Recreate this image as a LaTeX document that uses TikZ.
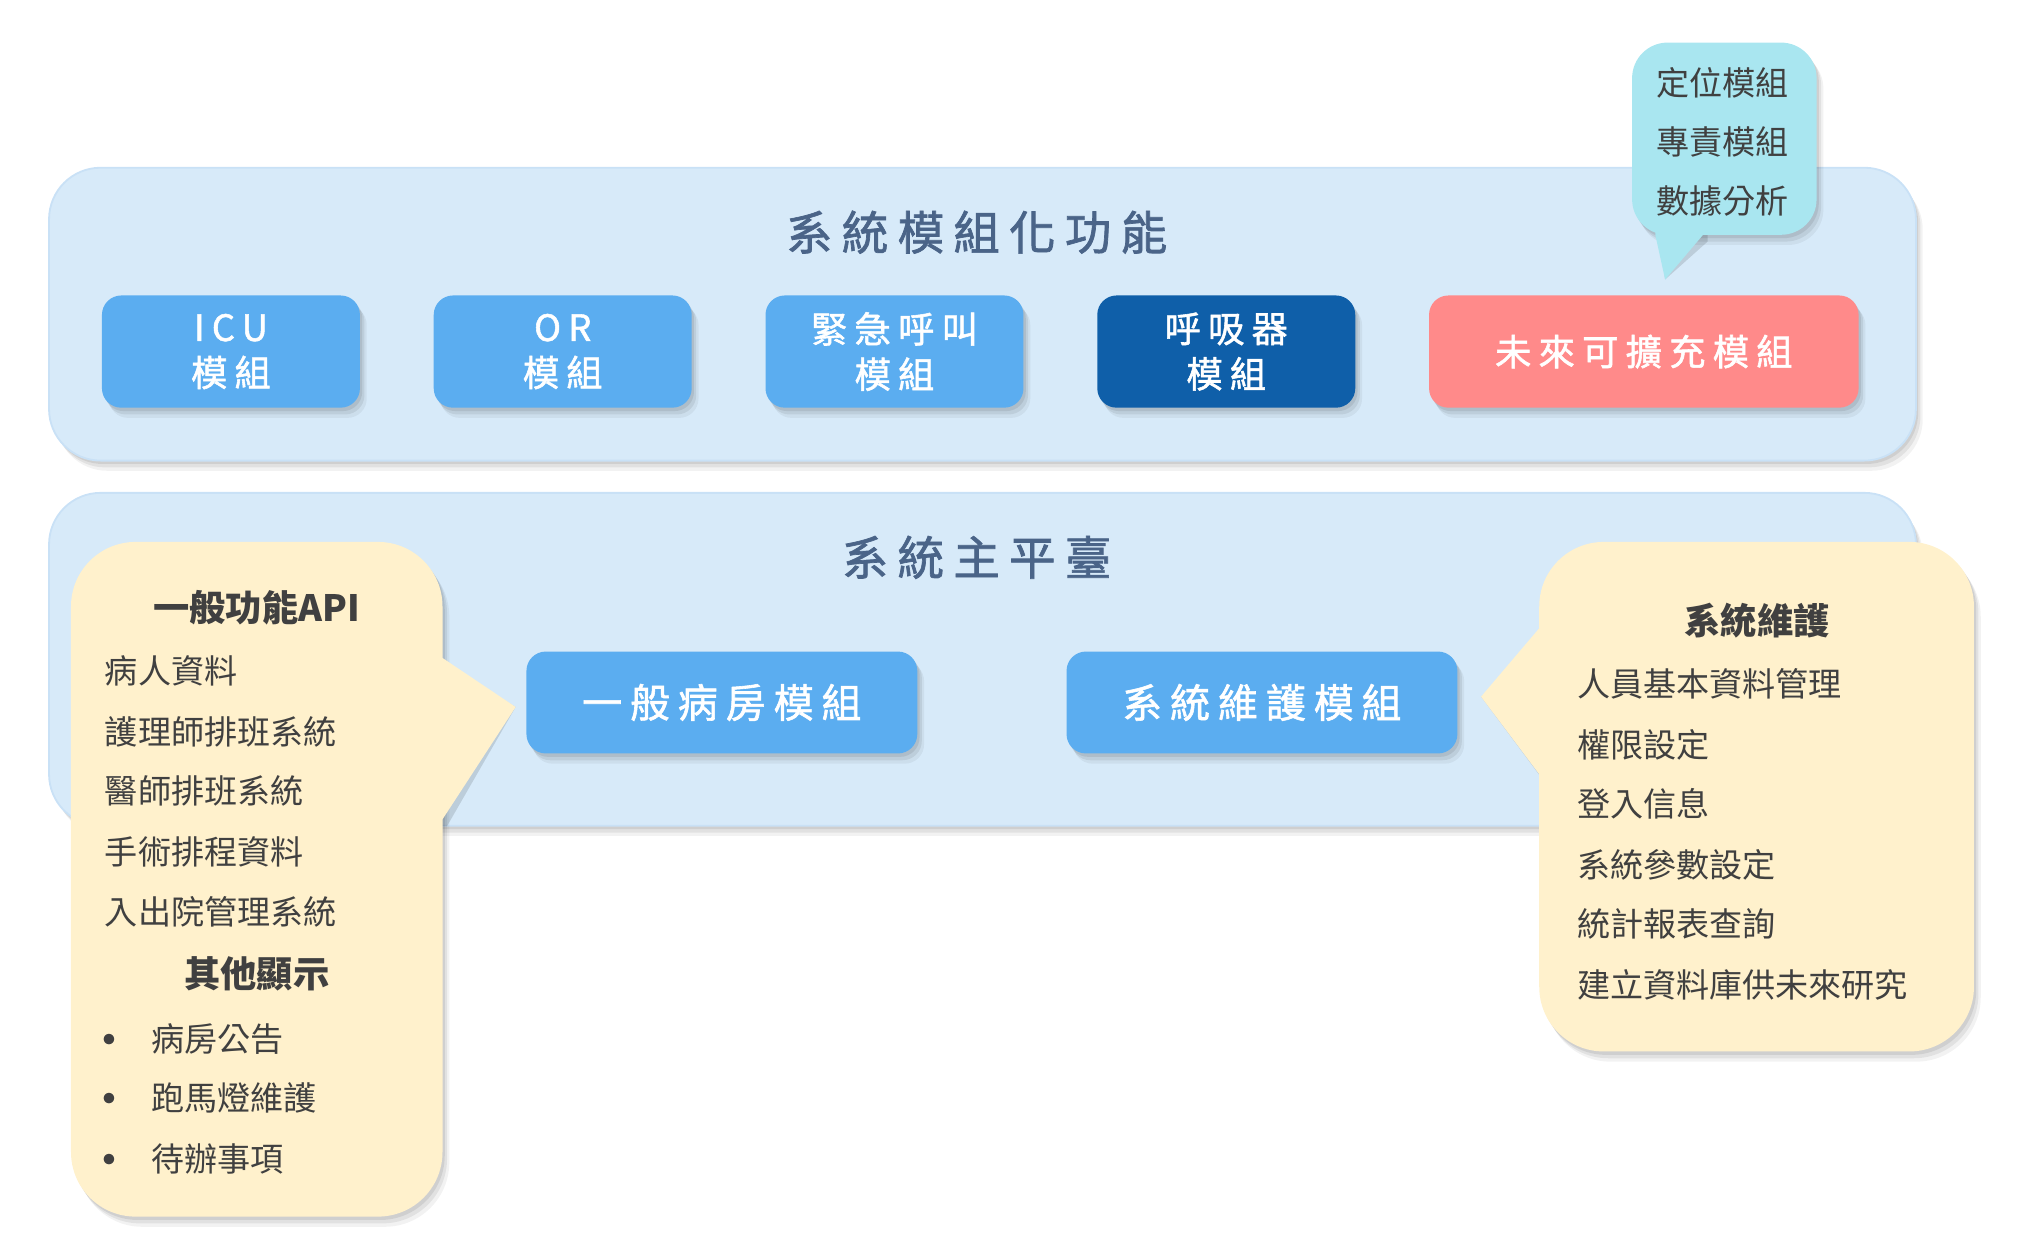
\documentclass[tikz,border=0pt]{standalone}
\usepackage{fontspec}
\setmainfont{Noto Sans CJK TC}
\newfontfamily\spacedcjk[LetterSpace=20, FakeBold=1.5]{Noto Sans CJK TC}
\usetikzlibrary{positioning,calc,shadows}

\definecolor{panelblue}{HTML}{D7EAF9}
\definecolor{paneledge}{HTML}{C9E1F6}
\definecolor{moduleblue}{HTML}{5BADF0}
\definecolor{darkmodule}{HTML}{0F5FA9}
\definecolor{futurered}{HTML}{FF8A8A}
\definecolor{tipcyan}{HTML}{A9E6F0}
\definecolor{notecream}{HTML}{FFF1CC}
\definecolor{titleblue}{HTML}{4A6488}
\definecolor{notetext}{HTML}{404040}

\tikzset{
    soft-shadow/.style = {
        drop shadow={shadow xshift=3pt, shadow yshift=-4.5pt, opacity=0.05, fill=black},
        drop shadow={shadow xshift=2pt, shadow yshift=-3pt, opacity=0.07, fill=black},
        drop shadow={shadow xshift=1pt, shadow yshift=-1.5pt, opacity=0.08, fill=black}},
    panel/.style = {fill=panelblue, draw=paneledge, line width=0.8pt, rounded corners=0.8cm, soft-shadow},
    panel-title/.style = {text=titleblue, font=\spacedcjk\fontsize{20.5}{24}\selectfont},
    module-box/.style = {fill=moduleblue, rectangle, rounded corners=0.3cm, minimum width=4cm, minimum height=1.74cm, align=center, text=white, font=\spacedcjk\fontsize{16}{20}\selectfont, soft-shadow},
    main-box/.style = {module-box, minimum width=6.06cm, minimum height=1.58cm, font=\spacedcjk\fontsize{17.6}{20}\selectfont},
    note/.style = {rectangle, rounded corners=1cm, soft-shadow},
    tail-shadow/.style = {fill=black, opacity=0.12, xshift=2pt, yshift=-3pt},
    note-head/.style = {text=notetext, font=\bfseries\fontsize{16}{20}\selectfont},
    note-item/.style = {text=notetext, font=\fontsize{14.6}{18}\selectfont, anchor=west, inner sep=0pt},
    note-dot/.style = {text=notetext, font=\fontsize{22}{22}\selectfont, inner sep=0pt},
}

\begin{document}
\begin{tikzpicture}[x=0.02cm, y=-0.02cm]
\useasboundingbox (0,0) rectangle (1568,976.6);

% modules
\draw[panel] (38,130) rectangle (1485,357);
\node[panel-title] (modtitle) at (757,180) {系統模組化功能};
\node[module-box] (icu) at (179,272.5) {ICU\\模組};
\node[module-box, right=1.13cm of icu] (opr) {OR\\模組};
\node[module-box, right=1.13cm of opr] (alarm) {緊急呼叫\\模組};
\node[module-box, right=1.13cm of alarm, fill=darkmodule] (vent) {呼吸器\\模組};
\node[module-box, right=1.13cm of vent, fill=futurered, minimum width=6.66cm] (future) {未來可擴充模組};

% platform
\draw[panel] (38,382) rectangle (1485,640);
\node[panel-title] (maintitle) at (757,432) {系統主平臺};
\node[main-box] (ward) at (559.5,544.5) {一般病房模組};
\node[main-box, right=2.3cm of ward] (maint) {系統維護模組};

% future modules note
\fill[tail-shadow] (1283,170) -- (1283,182) -- ($(future.north)+(16.5,-12)$) -- (1320,182) -- (1320,170) -- cycle;
\node[note, fill=tipcyan, rounded corners=0.55cm, minimum width=2.86cm, minimum height=2.98cm] (tipnote) at (1336.5,107.5) {};
\fill[tipcyan] (1283,170) -- (1283,182) -- ($(future.north)+(16.5,-12)$) -- (1320,182) -- (1320,170) -- cycle;
\node[note-item, anchor=center] (locate) at (1335,64) {定位模組};
\node[note-item, anchor=center] (duty) at (1335,110) {專責模組};
\node[note-item, anchor=center] (stats) at (1335,156) {數據分析};

% general functions note
\fill[tail-shadow] (330,510) -- (343,510) -- ($(ward.west)+(-8,3.5)$) -- (343,635) -- (330,635) -- cycle;
\node[note, fill=notecream, minimum width=5.76cm, minimum height=10.46cm] (api) at (199,681.5) {};
\fill[notecream] (330,510) -- (343,510) -- ($(ward.west)+(-8,3.5)$) -- (343,635) -- (330,635) -- cycle;
\node[note-head] (apihead) at (199,471) {一般功能API};
\node[note-item] (patient) at (81,520) {病人資料};
\node[note-item] (nurse) at (81,567) {護理師排班系統};
\node[note-item] (doctor) at (81,613) {醫師排班系統};
\node[note-item] (surgery) at (81,660) {手術排程資料};
\node[note-item] (admit) at (81,707) {入出院管理系統};
\node[note-head] (otherhead) at (199,755) {其他顯示};
\node[note-dot] (dot1) at (85,811) {•};
\node[note-item] (notice) at (117,805) {病房公告};
\node[note-dot] (dot2) at (85,857) {•};
\node[note-item] (marquee) at (117,851) {跑馬燈維護};
\node[note-dot] (dot3) at (85,904) {•};
\node[note-item] (todo) at (117,898) {待辦事項};

% maintenance note
\fill[tail-shadow] (1205,487) -- (1193,487) -- ($(maint.east)+(18,-4.5)$) -- (1193,600) -- (1205,600) -- cycle;
\node[note, fill=notecream, minimum width=6.74cm, minimum height=7.9cm] (sysnote) at (1361.5,617.5) {};
\fill[notecream] (1205,487) -- (1193,487) -- ($(maint.east)+(18,-4.5)$) -- (1193,600) -- (1205,600) -- cycle;
\node[note-head] (syshead) at (1362,481) {系統維護};
\node[note-item] (staff) at (1222,530) {人員基本資料管理};
\node[note-item] (rights) at (1222,577) {權限設定};
\node[note-item] (login) at (1222,623) {登入信息};
\node[note-item] (params) at (1222,670) {系統參數設定};
\node[note-item] (report) at (1222,716) {統計報表查詢};
\node[note-item] (research) at (1222,763) {建立資料庫供未來研究};
\end{tikzpicture}
\end{document}
